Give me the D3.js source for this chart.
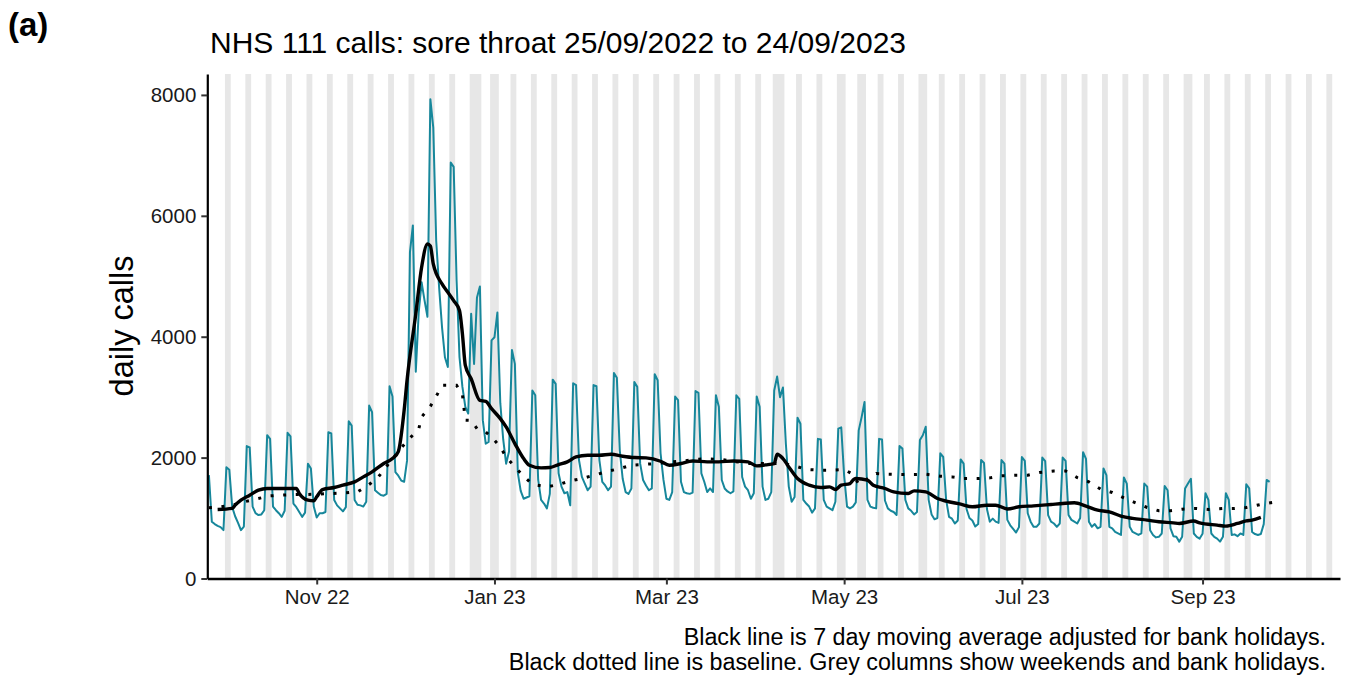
<!DOCTYPE html>
<html><head><meta charset="utf-8">
<script src="https://cdn.jsdelivr.net/npm/d3@7"></script>
<style>
body{margin:0;background:#fff;}
text{font-family:"Liberation Sans",Arial,Helvetica,sans-serif;}
</style></head><body>
<svg id="chart" width="1350" height="675"></svg>
<script>
// ---------------- DATA ----------------
const startDate = "2022-09-25";   // first day of daily series (a Sunday)

// daily NHS 111 calls (sore throat), one row per week Sat..Fri (first row Sun..Fri)
const dailyCalls = [
  1710, 940, 900, 870, 850, 800,                 // 25 Sep 2022
  1840, 1800, 1180, 1030, 920, 800, 860,         // 1 Oct
  2190, 2170, 1190, 1080, 1050, 1060, 1130,      // 8 Oct
  2370, 2310, 1190, 1130, 1080, 1020, 1120,      // 15 Oct
  2410, 2350, 1240, 1180, 1100, 1020, 1090,      // 22 Oct
  1900, 1820, 1190, 1010, 1080, 1080, 1100,      // 29 Oct
  2420, 2400, 1300, 1210, 1160, 1110, 1180,      // 5 Nov
  2600, 2530, 1300, 1220, 1210, 1190, 1270,      // 12 Nov
  2860, 2750, 1460, 1420, 1380, 1370, 1400,      // 19 Nov
  3180, 3010, 1760, 1700, 1620, 1600, 1950,      // 26 Nov
  5400, 5840, 3420, 4400, 4900, 4600, 4330,      // 3 Dec
  7930, 7460, 5590, 4820, 4160, 3660, 3500,      // 10 Dec
  6880, 6810, 4930, 3660, 3170, 2840, 2730,      // 17 Dec
  4380, 3550, 4650, 4830, 2620, 2230, 2260,      // 24 Dec
  3940, 3990, 4400, 2900, 2300, 1900, 2100,      // 31 Dec
  3780, 3550, 1750, 1450, 1320, 1340, 1360,      // 7 Jan 2023
  3110, 3030, 1630, 1300, 1240, 1160, 1400,      // 14 Jan
  3290, 3220, 1740, 1520, 1410, 1430, 1210,      // 21 Jan
  3230, 3200, 1960, 1680, 1570, 1460, 1520,      // 28 Jan
  3200, 3180, 1960, 1600, 1540, 1460, 1520,      // 4 Feb
  3400, 3320, 2120, 1650, 1430, 1400, 1490,      // 11 Feb
  3250, 3170, 1900, 1630, 1540, 1460, 1490,      // 18 Feb
  3380, 3280, 2070, 1630, 1320, 1300, 1430,      // 25 Feb
  3010, 2950, 1600, 1430, 1410, 1400, 1420,      // 4 Mar
  3100, 3070, 1740, 1600, 1430, 1490, 1430,      // 11 Mar
  3030, 2840, 1630, 1490, 1440, 1410, 1440,      // 18 Mar
  3030, 2970, 1680, 1520, 1460, 1320, 1410,      // 25 Mar
  3010, 2840, 1520, 1300, 1320, 1430, 3110,      // 1 Apr
  3340, 3000, 3160, 2230, 1520, 1270, 1350,      // 8 Apr
  2660, 2560, 1300, 1240, 1190, 1090, 1160,      // 15 Apr
  2310, 2300, 1300, 1190, 1160, 1130, 1270,      // 22 Apr
  2480, 2500, 1700, 1190, 1160, 1190, 1260,      // 29 Apr
  2450, 2670, 2920, 1300, 1190, 1170, 1160,      // 6 May
  2310, 2300, 1290, 1160, 1120, 1100, 1050,      // 13 May
  2190, 2150, 1300, 1160, 1120, 1060, 1100,      // 20 May
  2290, 2370, 2510, 1300, 1060, 980, 1000,       // 27 May
  2070, 2010, 1300, 1020, 990, 910, 960,         // 3 Jun
  1970, 1900, 1150, 1000, 960, 860, 900,         // 10 Jun
  1960, 1910, 1150, 940, 990, 940, 920,          // 17 Jun
  1960, 1900, 970, 880, 820, 760, 850,           // 24 Jun
  2010, 1945, 1080, 940, 855, 855, 910,          // 1 Jul
  2000, 1940, 1050, 940, 910, 855, 910,          // 8 Jul
  2000, 1945, 1050, 970, 940, 910, 1000,         // 15 Jul
  2090, 1980, 940, 855, 900, 830, 855,           // 22 Jul
  1820, 1710, 855, 830, 770, 745, 720,           // 29 Jul
  1670, 1570, 855, 770, 745, 720, 745,           // 5 Aug
  1570, 1520, 800, 720, 680, 690, 745,           // 12 Aug
  1530, 1460, 830, 700, 690, 610, 690,           // 19 Aug
  1490, 1570, 1650, 745, 690, 660, 740,          // 26 Aug
  1410, 1300, 745, 690, 660, 610, 690,           // 2 Sep
  1410, 1300, 720, 730, 700, 745, 720,           // 9 Sep
  1560, 1490, 770, 735, 720, 735, 900,           // 16 Sep
  1630, 1600                                     // 23 Sep
];

// 7 day moving average (adjusted for bank holidays): day offset from startDate, value
const maDay = [3,8,9,11,14,17,20,30,31,34,36,37,39,43,46,50,53,56,60,63,65,67,68,71,73,75,76,77,80,82,84,86,87,88,90,93,95,97,100,102,105,108,110,114,117,120,123,126,130,134,138,142,146,150,155,158,162,166,171,175,180,185,188,191,194,195,197,199,202,206,210,213,215,217,220,221,222,226,228,232,235,240,242,246,250,253,258,262,267,270,274,278,283,289,293,297,301,305,309,313,317,322,326,331,333,338,340,346,349,353,356,358,361];
const maValue = [1142,1160,1213,1296,1378,1461,1489,1489,1406,1296,1285,1351,1472,1505,1544,1598,1681,1764,1902,1984,2100,2782,3277,4378,5148,5534,5500,5204,4874,4735,4598,4433,4048,3525,3305,2947,2930,2810,2645,2507,2232,1984,1874,1830,1836,1885,1929,2011,2039,2039,2056,2023,2001,1995,1940,1874,1902,1945,1929,1929,1945,1929,1863,1880,1902,2056,1984,1846,1654,1544,1505,1516,1472,1544,1571,1626,1654,1626,1544,1489,1433,1406,1450,1433,1324,1280,1230,1186,1213,1213,1150,1186,1202,1225,1241,1252,1197,1131,1103,1032,994,966,938,921,911,950,921,883,867,911,954,966,1010];

// baseline: day offset from startDate, value
const baseDay = [0,4,8,12,16,21,25,29,34,42,47,51,55,58,61,66,69,72,73,76,78,80,85,87,88,90,92,95,97,100,102,105,108,111,116,120,124,128,133,137,141,145,150,154,158,163,167,172,176,185,193,197,201,205,210,214,218,221,223,229,233,238,242,246,251,255,259,264,268,272,277,281,285,290,294,298,302,306,310,314,318,322,326,330,334,339,343,348,352,356,361,365];
const baseValue = [1170,1185,1213,1268,1312,1367,1378,1390,1390,1406,1417,1433,1555,1670,1857,2160,2325,2470,2672,2848,3013,3195,3195,3046,2620,2617,2480,2424,2341,2176,2011,1846,1692,1560,1516,1555,1615,1654,1720,1775,1819,1874,1890,1902,1929,1945,1973,1978,1968,1902,1902,1902,1863,1803,1791,1791,1803,1725,1560,1737,1725,1720,1720,1725,1692,1681,1654,1654,1665,1698,1709,1709,1753,1780,1780,1670,1598,1478,1423,1334,1252,1175,1120,1120,1147,1159,1142,1159,1159,1175,1225,1258];

const bankHolidays = ["2022-12-26","2022-12-27","2023-01-02","2023-04-07","2023-04-10","2023-05-01","2023-05-08","2023-05-29","2023-08-28"];
const shadeFrom = "2022-10-01", shadeTo = "2023-10-15";

const yTicks = [0, 2000, 4000, 6000, 8000];
const xTicks = ["2022-11-01","2023-01-01","2023-03-01","2023-05-01","2023-07-01","2023-09-01"];

const panelLabel = "(a)";
const titleText = "NHS 111 calls: sore throat 25/09/2022 to 24/09/2023";
const yTitle = "daily calls";
const captionLines = ["Black line is 7 day moving average adjusted for bank holidays.",
                      "Black dotted line is baseline. Grey columns show weekends and bank holidays."];

// ---------------- CHART ----------------
const parse = d3.utcParse("%Y-%m-%d");
const t0 = parse(startDate);
const dayDate = i => d3.utcDay.offset(t0, i);

const svg = d3.select("#chart");
const L = 207.3, R = 1340, T = 74, B = 578.5;

const x = d3.scaleUtc()
  .domain([new Date(Date.UTC(2022, 8, 24, 10, 50)), new Date(Date.UTC(2023, 9, 18, 4, 0))])
  .range([L, R]);
const y = d3.scaleLinear().domain([0, 8346]).range([B, T]);

// grey columns: weekends + bank holidays, merged into runs
const bh = new Set(bankHolidays);
const fmt = d3.utcFormat("%Y-%m-%d");
const allDays = d3.utcDay.range(parse(shadeFrom), d3.utcDay.offset(parse(shadeTo), 1));
const shaded = allDays.filter(d => d.getUTCDay() === 0 || d.getUTCDay() === 6 || bh.has(fmt(d)));
const runs = [];
shaded.forEach(d => {
  const last = runs[runs.length - 1];
  if (last && +d3.utcDay.offset(last.end, 1) === +d) last.end = d;
  else runs.push({start: d, end: d});
});
const half = 12 * 3600 * 1000;
svg.append("g").selectAll("rect").data(runs).join("rect")
  .attr("x", d => x(new Date(+d.start - half)))
  .attr("width", d => x(new Date(+d.end + half)) - x(new Date(+d.start - half)))
  .attr("y", T).attr("height", B - T)
  .attr("fill", "#e7e7e7");

// daily calls line
svg.append("path")
  .datum(dailyCalls)
  .attr("fill", "none").attr("stroke", "#17879b").attr("stroke-width", 2)
  .attr("stroke-linejoin", "round")
  .attr("d", d3.line().x((d, i) => x(dayDate(i))).y(d => y(d)));

// moving average
svg.append("path")
  .datum(maDay.map((d, i) => [d, maValue[i]]))
  .attr("fill", "none").attr("stroke", "#000").attr("stroke-width", 3.4)
  .attr("stroke-linejoin", "round")
  .attr("d", d3.line().curve(d3.curveMonotoneX).x(d => x(dayDate(d[0]))).y(d => y(d[1])));

// baseline (dotted)
svg.append("path")
  .datum(baseDay.map((d, i) => [d, baseValue[i]]))
  .attr("fill", "none").attr("stroke", "#000").attr("stroke-width", 3)
  .attr("stroke-dasharray", "3 9.6")
  .attr("d", d3.line().x(d => x(dayDate(d[0]))).y(d => y(d[1])));

// axes
const gx = svg.append("g").attr("transform", `translate(0,${B})`)
  .call(d3.axisBottom(x).tickValues(xTicks.map(parse)).tickFormat(d3.utcFormat("%b %y"))
        .tickSize(6).tickSizeOuter(0).tickPadding(5));
gx.select(".domain").attr("stroke", "#000").attr("stroke-width", 2.6);
gx.selectAll(".tick line").attr("stroke", "#333").attr("stroke-width", 2);
gx.selectAll(".tick text").attr("font-size", "20.5px").attr("fill", "#1a1a1a")
  .attr("font-family", "'Liberation Sans',Arial,sans-serif");

const gy = svg.append("g").attr("transform", `translate(${L},0)`)
  .call(d3.axisLeft(y).tickValues(yTicks).tickFormat(d3.format("d"))
        .tickSize(6).tickSizeOuter(0).tickPadding(5));
gy.select(".domain").attr("stroke", "#000").attr("stroke-width", 2.2);
gy.selectAll(".tick line").attr("stroke", "#333").attr("stroke-width", 2);
gy.selectAll(".tick text").attr("font-size", "20.5px").attr("fill", "#1a1a1a")
  .attr("font-family", "'Liberation Sans',Arial,sans-serif");

// texts
svg.append("text").attr("x", 8).attr("y", 36).attr("font-size", "33px")
  .attr("font-weight", "bold").text(panelLabel);
svg.append("text").attr("x", 210).attr("y", 53).attr("font-size", "30px")
  .attr("fill", "#000").text(titleText);
svg.append("text").attr("transform", "translate(133,326) rotate(-90)")
  .attr("text-anchor", "middle").attr("font-size", "32.5px").text(yTitle);
svg.append("g").selectAll("text").data(captionLines).join("text")
  .attr("x", 1326).attr("y", (d, i) => 645 + i * 25)
  .attr("text-anchor", "end").attr("font-size", "23.3px").text(d => d);
</script>
</body></html>
